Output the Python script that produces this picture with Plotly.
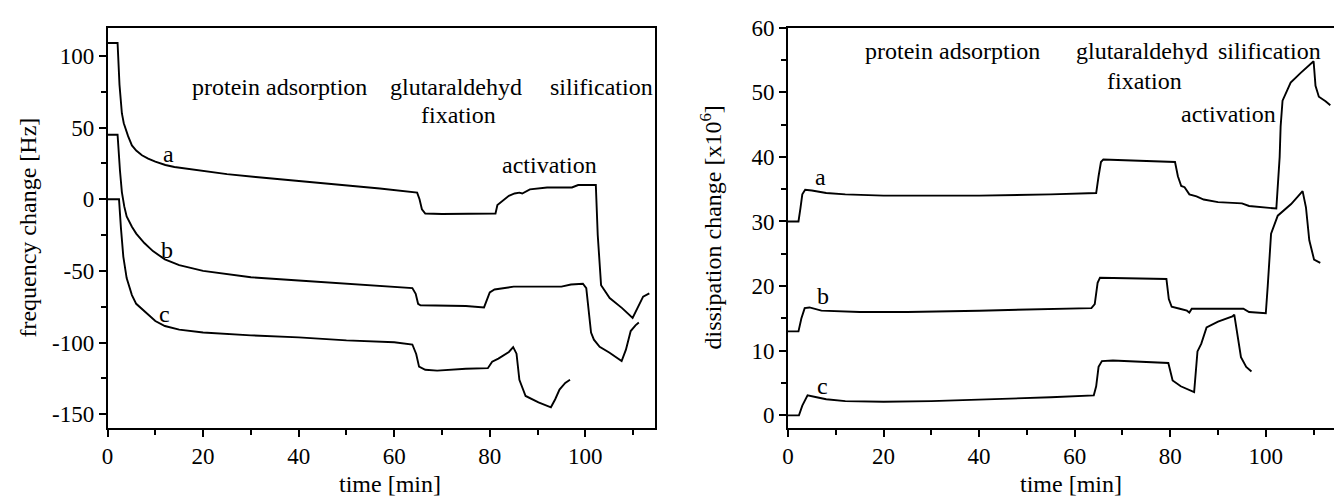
import plotly.graph_objects as go

# ---------------- data: frequency change (left) ----------------
t_fa = [0, 2.1, 2.5, 3.0, 3.4, 3.75, 4.3, 5.1, 6, 7.2, 8.5, 10, 12.1, 14, 16, 20, 25, 31, 40, 49, 57, 64.8,
        65.3, 65.8, 66.5, 70, 75, 81.2, 81.6, 82.7, 84, 85.2, 86.2, 86.8, 88.4, 92, 97.2, 98.5, 101.6,
        102.2, 102.6, 103.3, 105.1, 107.7, 109.9, 110.8, 112.1, 113.4]
f_a = [109, 109, 80, 60, 53, 49, 44, 37.5, 34, 30.7, 28.3, 26.2, 23.9, 22.5, 21.5, 19.5, 17.5, 15.5, 12.8,
       10, 7.5, 4.6, 0, -7, -10, -10.3, -10.3, -10, -4, -0.8, 2.4, 4, 4.6, 4, 6.9, 8.2, 8.2, 9.9, 10.3,
       10, -25, -60, -69, -76, -82.9, -77, -68, -65.7]

t_fb = [0, 2.1, 2.6, 3.0, 3.5, 4, 5.1, 6, 7.7, 9.5, 12, 15, 20, 25, 30, 40, 50, 60, 63.8, 64.5, 65, 65.5,
        70, 75, 78.8, 79.5, 80, 81, 83, 85, 90, 95, 97, 99.5, 100.2, 100.7, 101.2, 101.8, 103, 105, 107.6,
        108.5, 109.5, 110.5, 111.2]
f_b = [45, 45, 20, 5, -5, -12, -19.2, -24, -30.6, -36.2, -42, -46, -50, -52.5, -54.5, -56.7, -59, -61, -62,
       -66, -73, -74, -74, -74.5, -75.5, -70, -65, -63, -62, -61, -61, -61, -59.5, -59, -62, -80, -93,
       -98, -103, -107, -113, -105, -92, -88, -86]

t_fc = [0, 2.4, 2.8, 3.3, 4, 5.1, 6, 7.7, 10, 12, 15, 20, 30, 40, 50, 60, 63.8, 64.6, 65.2, 66.5, 69, 75,
        79.6, 80.5, 81.8, 84, 84.9, 85.6, 86.2, 87.5, 90.2, 92.8, 93.7, 94.6, 95.8, 96.8]
f_c = [0, 0, -20, -40, -55, -66.9, -73, -78.3, -85, -88.5, -91, -93, -95, -96.4, -98.5, -99.8, -101.4,
       -108, -116.8, -119, -119.6, -118.3, -117.9, -113.4, -111.2, -106.6, -103.2, -107.8, -126, -137.3,
       -141.8, -145.2, -139.6, -132.8, -128.2, -126]

# ---------------- data: dissipation change (right) ----------------
t_da = [0, 2.2, 2.6, 3.0, 3.6, 5, 8, 12, 20, 40, 55, 64.5, 65.0, 65.5, 66, 72, 81, 81.6, 82.3, 83, 84, 85.5,
        87, 90, 95, 96.5, 99, 102.2, 102.9, 103.1, 103.5, 105.2, 107.3, 110.0, 110.4, 111.1, 112.5, 113.5]
d_a = [30, 30, 32, 34.2, 34.9, 34.8, 34.4, 34.2, 34.0, 34.0, 34.2, 34.4, 37, 39.2, 39.6, 39.4, 39.2, 37,
       35.5, 35.3, 34.2, 33.9, 33.4, 33.0, 32.8, 32.4, 32.2, 32.0, 40, 44.7, 48.7, 51.5, 53, 54.8, 51,
       49.3, 48.6, 48.0]

t_db = [0, 2.2, 2.8, 3.5, 4.5, 7, 15, 25, 40, 55, 63.5, 64.2, 64.8, 65.3, 70, 79.2, 79.7, 80.3, 82, 83.5,
        84, 84.5, 90, 95.3, 96.5, 100, 100.4, 101.1, 102.5, 105.3, 107.7, 108.4, 109.1, 110.1, 111.4]
d_b = [13, 13, 15, 16.6, 16.7, 16.2, 16.0, 16.0, 16.2, 16.5, 16.6, 17.2, 20.5, 21.3, 21.2, 21.1, 18,
       16.8, 16.5, 16.2, 15.9, 16.5, 16.5, 16.5, 16.0, 15.8, 20, 28.1, 30.9, 32.7, 34.7, 32.2, 27.1,
       24.1, 23.6]

t_dc = [0, 2.3, 3.0, 4.1, 6, 8, 12, 20, 30, 45, 55, 64, 64.5, 65.0, 65.7, 68, 75, 79.6, 80.5, 82.2, 85,
        85.7, 86.5, 87.6, 90, 93, 93.4, 94.1, 94.8, 95.9, 97.0]
d_c = [0, 0, 1.5, 3.1, 2.8, 2.5, 2.2, 2.1, 2.2, 2.5, 2.8, 3.1, 4.5, 7.5, 8.4, 8.5, 8.2, 8.1, 5.4, 4.5, 3.6,
       9.9, 11.1, 13.6, 14.5, 15.3, 15.6, 12.1, 9.0, 7.5, 6.8]

# ---------------- ticks ----------------
f_ticks = [-150, -100, -50, 0, 50, 100]
f_ticktext = ["-150", "-100", "-50", "0", "50", "100"]
d_ticks = [0, 10, 20, 30, 40, 50, 60]
t_ticks = [0, 20, 40, 60, 80, 100]

FONT = "Liberation Serif"
FS_TICK = 23
FS = 24
W, H = 1334, 500

fig = go.Figure()
line = dict(color="black", width=1.9)
for x, y in [(t_fa, f_a), (t_fb, f_b), (t_fc, f_c)]:
    fig.add_trace(go.Scatter(x=x, y=y, mode="lines", line=line, xaxis="x", yaxis="y",
                             showlegend=False, hoverinfo="skip"))
for x, y in [(t_da, d_a), (t_db, d_b), (t_dc, d_c)]:
    fig.add_trace(go.Scatter(x=x, y=y, mode="lines", line=line, xaxis="x2", yaxis="y2",
                             showlegend=False, hoverinfo="skip"))

ydom = [1 - 426 / H, 1 - 16 / H]
axcommon = dict(showgrid=False, zeroline=False, showline=True, linecolor="black", linewidth=1.5,
                ticks="outside", ticklen=7, tickwidth=1.5, tickcolor="black",
                tickfont=dict(family=FONT, size=FS_TICK, color="black"))
minor = lambda d: dict(ticks="outside", ticklen=5, tickwidth=1.5, tickcolor="black", dtick=d, tick0=0)

fig.update_layout(
    width=W, height=H, margin=dict(l=0, r=0, t=0, b=0),
    paper_bgcolor="white", plot_bgcolor="white",
    font=dict(family=FONT, size=FS, color="black"),
    xaxis=dict(domain=[102 / W, 652 / W], range=[0, 114.6], tickvals=t_ticks, mirror=True,
               minor=minor(10), anchor="y", **axcommon),
    yaxis=dict(domain=ydom, range=[-159.5, 119.75], tickvals=f_ticks, ticktext=f_ticktext, mirror=True,
               minor=minor(25), anchor="x", **axcommon),
    xaxis2=dict(domain=[785.5 / W, 1.0], range=[0, 114.27], tickvals=t_ticks, mirror=True,
                minor=minor(10), anchor="y2", **axcommon),
    yaxis2=dict(domain=ydom, range=[-1.92, 60], tickvals=d_ticks, mirror=False,
                minor=minor(5), anchor="x2", **axcommon),
)

anns = [
    # left panel texts
    ("x", "y", 36, 78, "protein adsorption"),
    ("x", "y", 73, 78, "glutaraldehyd"),
    ("x", "y", 73.5, 58.5, "fixation"),
    ("x", "y", 103.3, 78, "silification"),
    ("x", "y", 92.6, 23.7, "activation"),
    ("x", "y", 12.8, 31.5, "a"),
    ("x", "y", 12.4, -35.5, "b"),
    ("x", "y", 12.0, -80, "c"),
    # right panel texts
    ("x2", "y2", 34.5, 56.4, "protein adsorption"),
    ("x2", "y2", 74, 56.4, "glutaraldehyd"),
    ("x2", "y2", 74.6, 51.8, "fixation"),
    ("x2", "y2", 100.8, 56.4, "silification"),
    ("x2", "y2", 92.1, 46.6, "activation"),
    ("x2", "y2", 6.9, 36.9, "a"),
    ("x2", "y2", 7.3, 18.5, "b"),
    ("x2", "y2", 7.3, 4.5, "c"),
]
for xr, yr, x, y, txt in anns:
    fig.add_annotation(xref=xr, yref=yr, x=x, y=y, text=txt, showarrow=False,
                       font=dict(family=FONT, size=FS, color="black"), xanchor="center", yanchor="middle")

# axis titles
tfont = dict(family=FONT, size=FS, color="black")
fig.add_annotation(xref="paper", yref="paper", x=22 / W, y=1 - 221 / H, text="frequency change [Hz]",
                   textangle=-90, showarrow=False, font=tfont, xanchor="center", yanchor="middle")
fig.add_annotation(xref="paper", yref="paper", x=708 / W, y=1 - 221 / H,
                   text="dissipation change [x10<sup>6</sup>]",
                   textangle=-90, showarrow=False, font=tfont, xanchor="center", yanchor="middle")
fig.add_annotation(xref="paper", yref="paper", x=386 / W, y=1 / H, text="time [min]",
                   showarrow=False, font=tfont, xanchor="center", yanchor="bottom")
fig.add_annotation(xref="paper", yref="paper", x=1070 / W, y=1 / H, text="time [min]",
                   showarrow=False, font=tfont, xanchor="center", yanchor="bottom")

fig.write_html("out.html", config={"displayModeBar": False},
               post_script="document.body.style.margin='0';document.body.style.overflow='hidden';")
